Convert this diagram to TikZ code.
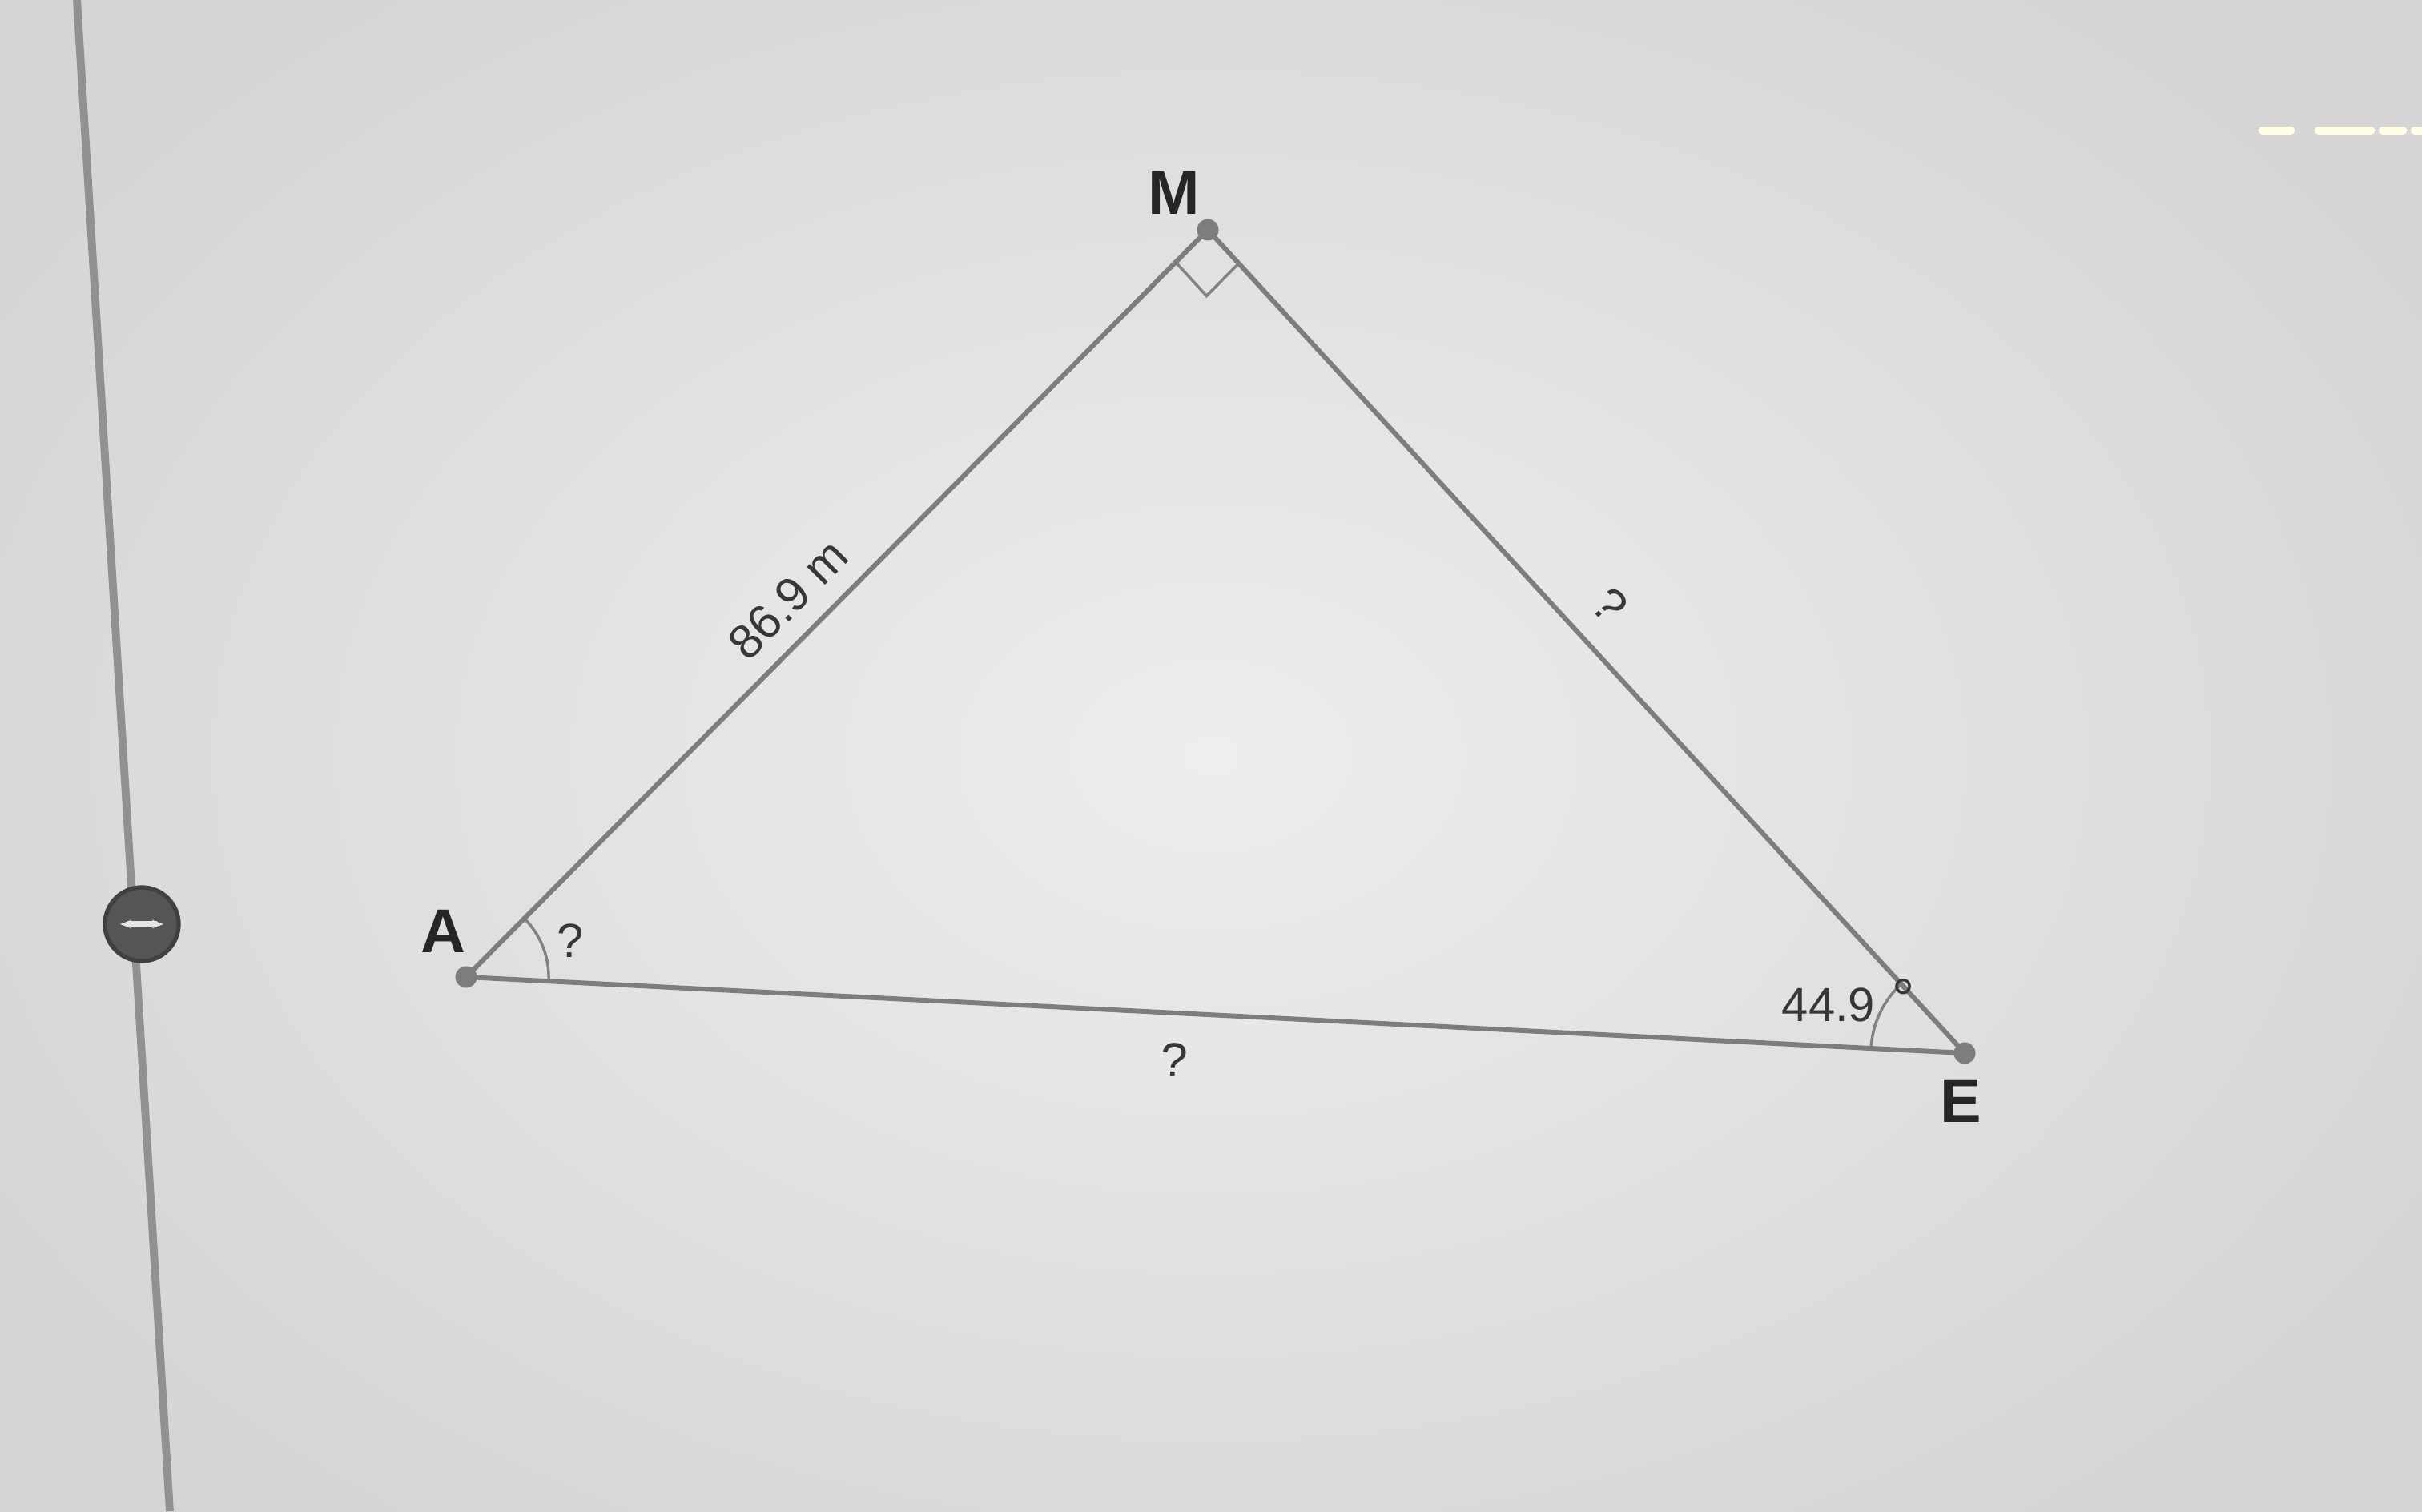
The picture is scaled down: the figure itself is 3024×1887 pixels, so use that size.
\documentclass[tikz,border=0pt]{standalone}
\usepackage{fontspec}
\setmainfont{Liberation Sans}
\usetikzlibrary{calc,arrows.meta}
\definecolor{bgmid}{RGB}{226,225,225}
\definecolor{bglight}{RGB}{238,238,236}
\definecolor{bgdark}{RGB}{214,212,213}
\definecolor{edgegray}{RGB}{125,125,125}
\definecolor{arcgray}{RGB}{130,130,130}
\definecolor{txtgray}{RGB}{55,55,55}
\definecolor{railgray}{RGB}{145,145,145}
\definecolor{knobgray}{RGB}{85,85,85}
\tikzset{
  edge/.style={draw=edgegray, line width=1.7pt},
  anglearc/.style={draw=arcgray, line width=1pt},
  ptdot/.style={fill=edgegray},
  vlabel/.style={font=\fontsize{22}{24}\selectfont\bfseries, text=black!85},
  mlabel/.style={font=\fontsize{17}{19}\selectfont, text=txtgray, inner sep=1pt},
}
\begin{document}
\begin{tikzpicture}[x=0.01cm,y=0.01cm]
\useasboundingbox (0,0) rectangle (3024,1887);
% background
\fill[bgmid] (0,0) rectangle (3024,1887);
\shade[inner color=bglight, outer color=bgdark] (-300,-300) rectangle (3324,2187);
% left rail and knob
\draw[railgray, line width=2.8pt] (96,1887) -- (212,0);
\node[circle, minimum size=0.92cm, fill=knobgray, draw=black!75, line width=1.5pt] (knob) at (177,733) {};
\draw[white!80!gray, line width=2pt, {Stealth[length=4pt]}-{Stealth[length=4pt]}] ([xshift=-0.27cm]knob.center) -- ([xshift=0.27cm]knob.center);
% top-right dashes
\draw[white!90!yellow, line width=3pt, line cap=round] (2825,1724) -- (2860,1724);
\draw[white!90!yellow, line width=3pt, line cap=round] (2895,1724) -- (2960,1724);
\draw[white!90!yellow, line width=3pt, line cap=round] (2975,1724) -- (3000,1724);
\draw[white!90!yellow, line width=3pt, line cap=round] (3015,1724) -- (3024,1724);
% vertices
\coordinate (A) at (582,667);
\coordinate (M) at (1508,1600);
\coordinate (E) at (2453,572);
% right angle marker
\coordinate (m1) at ($(M)!0.57cm!(A)$);
\coordinate (m2) at ($(M)!0.57cm!(E)$);
\draw[anglearc] (m1) -- ($(m1)+(m2)-(M)$) -- (m2);
% angle arcs
\draw[anglearc] ([shift={(-2.9:1.03cm)}]A) arc[start angle=-2.9, end angle=45.2, radius=1.03cm];
\draw[anglearc] ([shift={(132.6:1.17cm)}]E) arc[start angle=132.6, end angle=177.1, radius=1.17cm];
% sides
\draw[edge] (A) -- (M) -- (E) -- cycle;
\fill[ptdot] (A) circle (0.135cm);
\fill[ptdot] (M) circle (0.135cm);
\fill[ptdot] (E) circle (0.135cm);
% vertex labels
\node[vlabel] (lM) at (1466,1646) {M};
\node[vlabel] (lA) at (553,724) {A};
\node[vlabel] (lE) at (2448,512) {E};
% measures
\node[mlabel, rotate=45.2] (sAM) at (984,1139) {86.9 m};
\node[mlabel, rotate=-47.4] (sME) at (2010,1131) {?};
\node[mlabel, rotate=-2.9] (sAE) at (1466,564) {?};
\node[mlabel] (angA) at (712,712) {?};
\node[mlabel] (angE) at (2283,632) {44.9};
\node[mlabel, inner sep=0pt, font=\fontsize{20}{22}\selectfont] (degE) at (2377,640) {°};
\end{tikzpicture}
\end{document}
